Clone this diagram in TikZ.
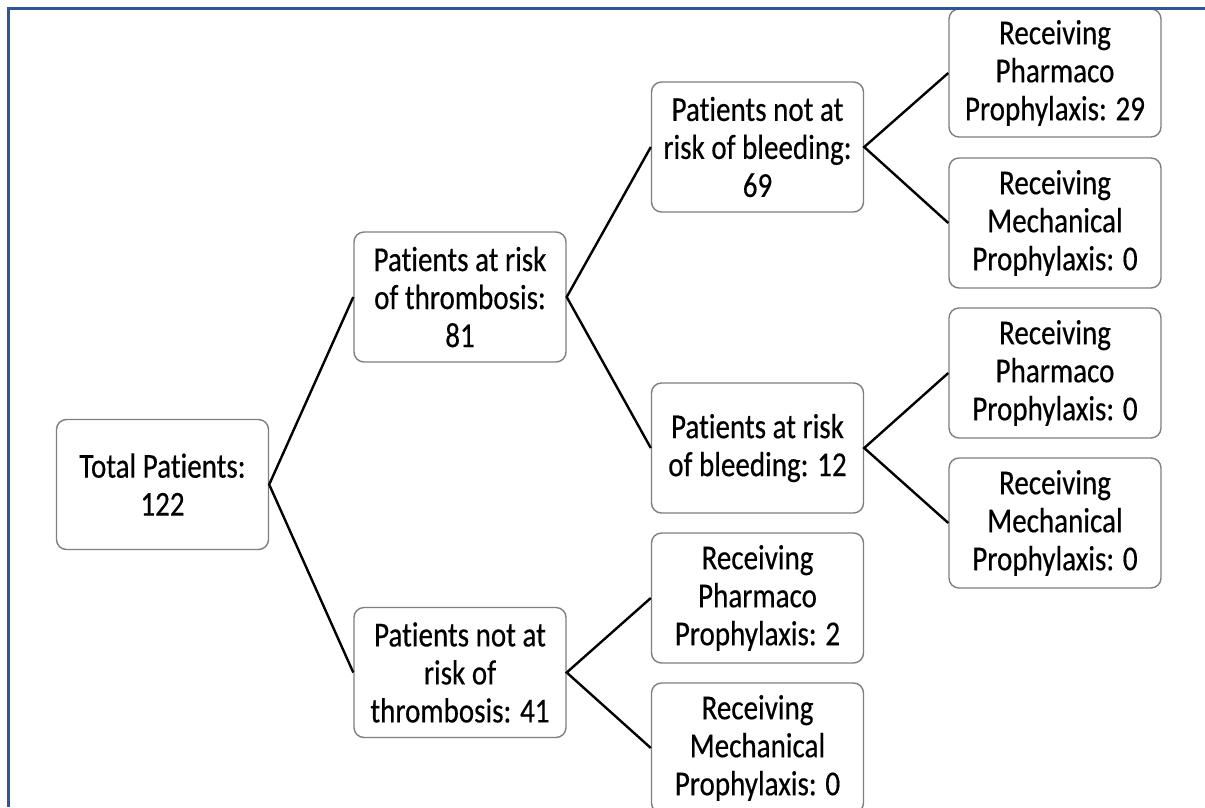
\documentclass[tikz,border=0pt]{standalone}
\usepackage{fontspec}
\newfontfamily\boxfont[FakeStretch=0.83,FakeBold=0.4,RawFeature={-liga}]{Carlito}
\definecolor{framecol}{HTML}{2F5597}
\definecolor{boxline}{HTML}{7F7F7F}
\tikzset{
  tbox/.style={draw=boxline, line width=1.4pt, rounded corners=10pt, fill=white,
    minimum width=212pt, minimum height=130pt, inner sep=0pt,
    align=center, font=\boxfont\fontsize{35}{38}\selectfont},
  conn/.style={draw=black, line width=2.4pt}
}
\begin{document}
\begin{tikzpicture}[x=1pt,y=-1pt]
\useasboundingbox (0,0) rectangle (1205,807);
\clip (0,0) rectangle (1205,807);
\fill[white] (0,0) rectangle (1205,807);
\node[tbox] (total) at (162.5,484.5) {Total Patients:\\122};
\node[tbox] (thr) at (460,297) {Patients at risk\\of thrombosis:\\81};
\node[tbox] (nthr) at (460,672.5) {Patients not at\\risk of\\thrombosis: 41};
\node[tbox] (nbl) at (757.5,147) {Patients not at\\risk of bleeding:\\69};
\node[tbox] (bl) at (757.5,448) {Patients at risk\\of bleeding: 12};
\node[tbox] (p2) at (757.5,598) {Receiving\\Pharmaco\\Prophylaxis: 2};
\node[tbox] (m0c) at (757.5,748) {Receiving\\Mechanical\\Prophylaxis: 0};
\node[tbox, minimum height=128pt] (p29) at (1055,73) {Receiving\\Pharmaco\\Prophylaxis: 29};
\node[tbox] (m0a) at (1055,223) {Receiving\\Mechanical\\Prophylaxis: 0};
\node[tbox] (p0) at (1055,373) {Receiving\\Pharmaco\\Prophylaxis: 0};
\node[tbox] (m0b) at (1055,523) {Receiving\\Mechanical\\Prophylaxis: 0};
\draw[conn] (thr.west) -- (total.east) -- (nthr.west);
\draw[conn] (nbl.west) -- (thr.east) -- (bl.west);
\draw[conn] (p2.west) -- (nthr.east) -- (m0c.west);
\draw[conn] (p29.west) -- (nbl.east) -- (m0a.west);
\draw[conn] (p0.west) -- (bl.east) -- (m0b.west);
\draw[framecol, line width=3pt] (8.5,807) -- (8.5,8.5) -- (1205,8.5);
\end{tikzpicture}
\end{document}
